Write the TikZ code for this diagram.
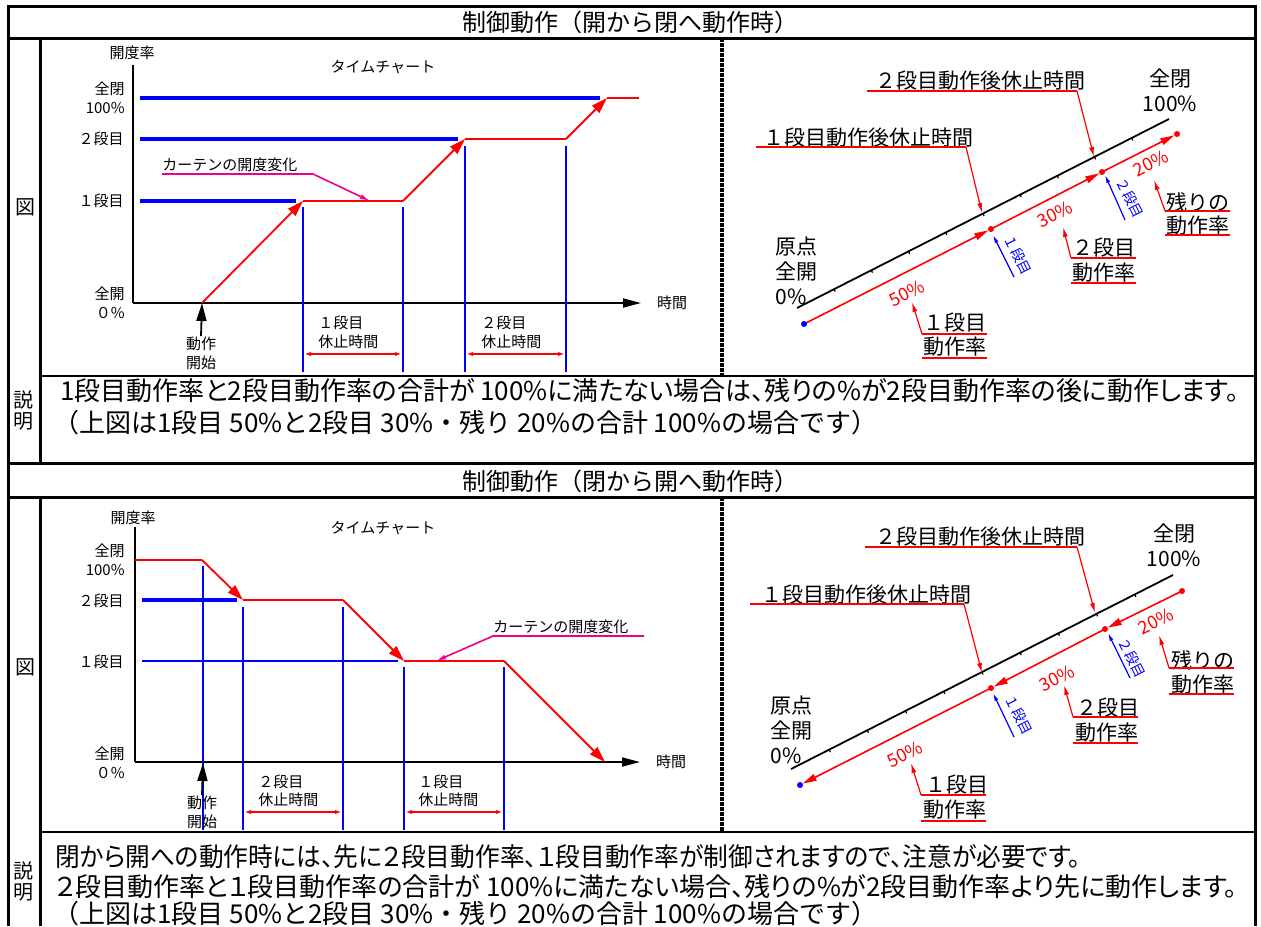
\documentclass[tikz,border=0pt]{standalone}
\usepackage{graphicx}
\usepackage{fontspec}
\setmainfont{Noto Sans CJK JP}
\newfontfamily\propfont{Noto Sans CJK JP}[RawFeature=+palt]
\usetikzlibrary{
	arrows.meta,
	calc,
	positioning
}

\begin{document}
\begin{tikzpicture}[
		x=0.5pt, y=-0.5pt,
		rule/.style={line width=1.5pt},
		thinrule/.style={line width=1pt},
		divider/.style={line width=1.6pt, dash pattern=on 2pt off 0.5pt},
		axis/.style={line width=0.9pt},
		lvl/.style={blue, line width=1.6pt},
		guide/.style={blue, line width=1pt},
		curve/.style={red, line width=0.9pt},
		curvearr/.style={curve, -{Triangle[length=8pt,width=5pt]}},
		rarr/.style={red, line width=0.8pt, shorten >=1.5pt, -{Triangle[length=7pt,width=3.5pt]}},
		span/.style={red, line width=0.8pt, {Latex[length=4pt,width=2pt]}-{Latex[length=4pt,width=2pt]}},
		note/.style={magenta, line width=0.8pt},
		small/.style={font=\fontsize{7.5}{9.5}\selectfont, inner sep=0pt},
		head/.style={font=\fontsize{12}{13}\selectfont, inner sep=0pt},
		body/.style={font=\propfont\fontsize{13}{15}\selectfont, inner sep=0pt, anchor=west},
		bodyfull/.style={body, font=\fontsize{13}{15}\selectfont},
		side/.style={font=\fontsize{10}{10.5}\selectfont, inner sep=0pt, align=center},
		tag/.style={font=\fontsize{10.5}{12.5}\selectfont, inner sep=0pt},
		pct/.style={red, font=\fontsize{9}{10}\selectfont, inner sep=0pt, rotate=27},
		stage/.style={blue, font=\fontsize{7}{8}\selectfont, inner sep=0pt, rotate=-63},
		uline/.style={red, line width=0.9pt},
		leader/.style={red, line width=0.6pt, -{Latex[length=5pt,width=2.5pt]}},
		bleader/.style={blue, line width=0.6pt, -{Latex[length=4pt,width=2pt]}}
	]
	\useasboundingbox (0,0) rectangle (1261,926);

	% table frame
	\draw[rule] (8,926) -- (8,6) -- (1255,6) -- (1255,926);
	\draw[rule] (8,38) -- (1255,38);
	\draw[thinrule] (40,376) -- (1255,376);
	\draw[rule] (8,463) -- (1255,463);
	\draw[rule] (8,497) -- (1255,497);
	\draw[thinrule] (40,832) -- (1255,832);
	\draw[rule] (40,38) -- (40,463);
	\draw[rule] (40,497) -- (40,926);
	\draw[divider] (722,38) -- (722,376);
	\draw[divider] (722,497) -- (722,832);

	\node[head] (title1) at (630,22) {制御動作（開から閉へ動作時）};
	\node[head] (title2) at (630,481) {制御動作（閉から開へ動作時）};
	\node[side] (fig1) at (25,207) {図};
	\node[side] (fig2) at (25,667) {図};
	\node[side] (expl1) at (23,410) {説\\明};
	\node[side] (expl2) at (23,881) {説\\明};

	\node[body] (text1a) at (60,391) {1段目動作率と2段目動作率の合計が 100\%に満たない場合は、残りの\%が2段目動作率の後に動作します。};
	\node[bodyfull] (text1b) at (53,423) {（上図は1段目 50\%と2段目 30\%・残り 20\%の合計 100\%の場合です）};
	\node[body] (text2a) at (55,857) {\scalebox{0.95}[1]{閉から開への動作時には、先に２段目動作率、１段目動作率が制御されますので、注意が必要です。}};
	\node[body] (text2b) at (55,887) {２段目動作率と１段目動作率の合計が 100\%に満たない場合、残りの\%が2段目動作率より先に動作します。};
	\node[bodyfull] (text2c) at (53,914) {（上図は1段目 50\%と2段目 30\%・残り 20\%の合計 100\%の場合です）};

	% time chart, open -> closed
	\coordinate (o1) at (133,303);
	\draw[axis] (133,65) -- (o1);
	\draw[axis, -{Triangle[length=9pt,width=4.5pt]}] (o1) -- (641,303);
	\node[small] (rate1) at (132,53) {開度率};
	\node[small] (chart1) at (383,67) {タイムチャート};
	\node[small] (time1) at (672,303) {時間};
	\node[small, align=right, anchor=east] (full1) at (125,98) {全閉\\100\%};
	\node[small, anchor=east] (lvltwo1) at (124,139) {２段目};
	\node[small, anchor=east] (lvlone1) at (124,201) {１段目};
	\node[small, align=right, anchor=east] (open1) at (125,303) {全開\\０\%};

	\draw[lvl] (140,98) -- (600,98);
	\draw[lvl] (140,139) -- (458,139);
	\draw[lvl] (140,201) -- (296,201);

	\coordinate (p0) at (202,303);
	\coordinate (p1) at (303,201);
	\coordinate (p2) at (403,201);
	\coordinate (p3) at (465,139);
	\coordinate (p4) at (566,139);
	\coordinate (p5) at (607,98);
	\coordinate (p6) at (639,98);
	\draw[curvearr] (p0) -- (p1);
	\draw[curve] (p1) -- (p2);
	\draw[curvearr] (p2) -- (p3);
	\draw[curve] (p3) -- (p4);
	\draw[curvearr] (p4) -- (p5);
	\draw[curve] (p5) -- (p6);

	\draw[guide] (303,207) -- (303,372);
	\draw[guide] (403,207) -- (403,372);
	\draw[guide] (465,146) -- (465,372);
	\draw[guide] (566,146) -- (566,372);
	\draw[span] (303,354) -- (403,354);
	\draw[span] (465,354) -- (566,354);
	\node[small, anchor=west] (restone1) at (318,323) {１段目};
	\node[small, anchor=west] (resttime1) at (318,342) {休止時間};
	\node[small, anchor=west] (resttwo1) at (481,323) {２段目};
	\node[small, anchor=west] (resttime1b) at (481,342) {休止時間};

	\node[small, align=center] (start1) at (201,353) {動作\\開始};
	\draw[axis, -{Triangle[length=9pt,width=5pt]}] (start1.north) -- (p0);

	\node[small, anchor=south west] (curtain1) at (162,172) {カーテンの開度変化};
	\draw[note, -{Latex[length=5pt,width=2.5pt]}] (162,174) -- (313,174) -- (370,201);

	% stroke diagram, open -> closed
	\coordinate (ax1a) at (797,308);
	\coordinate (ax1b) at (1169,119);
	\draw[axis] (ax1a) -- (ax1b);
	\foreach \t in {0.1,0.2,...,0.9}
		\draw[line width=0.6pt] ($(ax1a)!\t!(ax1b)$) -- ++(1,2.5);
	\coordinate (bd1) at (804,324);
	\coordinate (rd1a) at (991,229);
	\coordinate (rd1b) at (1102,172);
	\coordinate (rd1c) at (1177,134);
	\draw[rarr] (bd1) -- (rd1a);
	\draw[rarr] (rd1a) -- (rd1b);
	\draw[rarr] (rd1b) -- (rd1c);
	\fill[blue] (bd1) circle (3);
	\fill[red] (rd1a) circle (3);
	\fill[red] (rd1b) circle (3);
	\fill[red] (rd1c) circle (3);

	\node[tag, align=center] (closed1) at (1170,90) {全閉\\100\%};
	\node[tag, align=left, anchor=west] (origin1) at (775,271) {原点\\全開\\0\%};

	\node[tag] (pausetwo1) at (980,81) {２段目動作後休止時間};
	\draw[uline] (867,91) -- (1077,91);
	\draw[leader] (1077,91) -- (1094,157);
	\node[tag] (pauseone1) at (868,138) {１段目動作後休止時間};
	\draw[uline] (756,147) -- (966,147);
	\draw[leader] (966,147) -- (982,213);

	\node[pct] (pctone1) at (907,293) {50\%};
	\node[pct] (pcttwo1) at (1055,214) {30\%};
	\node[pct] (pctrest1) at (1151,163) {20\%};
	\node[stage] (stone1) at (1018,255) {１段目};
	\draw[bleader] (1014,277) -- (993,235);
	\node[stage] (sttwo1) at (1130,198) {２段目};
	\draw[bleader] (1125,220) -- (1105,175);

	\node[tag] (rateone1) at (955,323) {１段目};
	\node[tag] (rateone1b) at (955,347) {動作率};
	\draw[uline] (922,334) -- (987,334);
	\draw[uline] (922,358) -- (987,358);
	\draw[leader] (922,334) -- (912,302);
	\node[tag] (ratetwo1) at (1104,248) {２段目};
	\node[tag] (ratetwo1b) at (1104,273) {動作率};
	\draw[uline] (1071,258) -- (1136,258);
	\draw[uline] (1071,283) -- (1136,283);
	\draw[leader] (1071,258) -- (1063,227);
	\node[tag] (raterest1) at (1198,202) {残りの};
	\node[tag] (raterest1b) at (1198,226) {動作率};
	\draw[uline] (1165,211) -- (1230,211);
	\draw[uline] (1165,235) -- (1230,235);
	\draw[leader] (1165,211) -- (1154,180);

	% time chart, closed -> open
	\coordinate (o2) at (135,762);
	\draw[axis] (135,527) -- (o2);
	\draw[axis, -{Triangle[length=9pt,width=4.5pt]}] (o2) -- (640,762);
	\node[small] (rate2) at (133,518) {開度率};
	\node[small] (chart2) at (383,528) {タイムチャート};
	\node[small] (time2) at (671,762) {時間};
	\node[small, align=right, anchor=east] (full2) at (125,560) {全閉\\100\%};
	\node[small, anchor=east] (lvltwo2) at (124,601) {２段目};
	\node[small, anchor=east] (lvlone2) at (124,662) {１段目};
	\node[small, align=right, anchor=east] (open2) at (125,763) {全開\\０\%};

	\draw[lvl] (142,600) -- (237,600);
	\draw[guide] (142,661) -- (398,661);

	\coordinate (q0) at (135,560);
	\coordinate (q1) at (202,560);
	\coordinate (q2) at (243,600);
	\coordinate (q3) at (343,600);
	\coordinate (q4) at (404,661);
	\coordinate (q5) at (504,661);
	\coordinate (q6) at (605,762);
	\draw[curve] (q0) -- (q1);
	\draw[curvearr] (q1) -- (q2);
	\draw[curve] (q2) -- (q3);
	\draw[curvearr] (q3) -- (q4);
	\draw[curve] (q4) -- (q5);
	\draw[curvearr] (q5) -- (q6);

	\draw[guide] (203,566) -- (203,830);
	\draw[guide] (243,607) -- (243,830);
	\draw[guide] (343,607) -- (343,830);
	\draw[guide] (404,667) -- (404,830);
	\draw[guide] (504,667) -- (504,830);
	\draw[span] (243,812) -- (343,812);
	\draw[span] (404,812) -- (504,812);
	\node[small, anchor=west] (resttwo2) at (258,782) {２段目};
	\node[small, anchor=west] (resttime2) at (258,800) {休止時間};
	\node[small, anchor=west] (restone2) at (418,782) {１段目};
	\node[small, anchor=west] (resttime2b) at (418,800) {休止時間};

	\node[small, align=center] (start2) at (202,812) {動作\\開始};
	\draw[axis, -{Triangle[length=9pt,width=5pt]}] (start2.north) -- (203,763);

	\node[small, anchor=south west] (curtain2) at (493,634) {カーテンの開度変化};
	\draw[note, -{Latex[length=5pt,width=2.5pt]}] (644,636) -- (493,636) -- (436,661);

	% stroke diagram, closed -> open
	\coordinate (ax2a) at (791,769);
	\coordinate (ax2b) at (1173,575);
	\draw[axis] (ax2a) -- (ax2b);
	\foreach \t in {0.1,0.2,...,0.9}
		\draw[line width=0.6pt] ($(ax2a)!\t!(ax2b)$) -- ++(1,2.5);
	\coordinate (bd2) at (800,785);
	\coordinate (rd2a) at (991,688);
	\coordinate (rd2b) at (1105,629);
	\coordinate (rd2c) at (1182,591);
	\draw[rarr] (rd2c) -- (rd2b);
	\draw[rarr] (rd2b) -- (rd2a);
	\draw[rarr] (rd2a) -- (bd2);
	\fill[blue] (bd2) circle (3);
	\fill[red] (rd2a) circle (3);
	\fill[red] (rd2b) circle (3);
	\fill[red] (rd2c) circle (3);

	\node[tag, align=center] (closed2) at (1174,545) {全閉\\100\%};
	\node[tag, align=left, anchor=west] (origin2) at (770,730) {原点\\全開\\0\%};

	\node[tag] (pausetwo2) at (980,537) {２段目動作後休止時間};
	\draw[uline] (865,547) -- (1077,547);
	\draw[leader] (1077,547) -- (1095,613);
	\node[tag] (pauseone2) at (866,595) {１段目動作後休止時間};
	\draw[uline] (750,604) -- (964,604);
	\draw[leader] (964,604) -- (982,673);

	\node[pct] (pctone2) at (905,754) {50\%};
	\node[pct] (pcttwo2) at (1057,678) {30\%};
	\node[pct] (pctrest2) at (1156,621) {20\%};
	\node[stage] (stone2) at (1019,715) {１段目};
	\draw[bleader] (1014,737) -- (993,693);
	\node[stage] (sttwo2) at (1132,658) {２段目};
	\draw[bleader] (1130,678) -- (1108,633);

	\node[tag] (rateone2) at (957,785) {１段目};
	\node[tag] (rateone2b) at (955,810) {動作率};
	\draw[uline] (921,795) -- (986,795);
	\draw[uline] (921,821) -- (986,821);
	\draw[leader] (921,795) -- (911,763);
	\node[tag] (ratetwo2) at (1108,708) {２段目};
	\node[tag] (ratetwo2b) at (1107,733) {動作率};
	\draw[uline] (1073,717) -- (1138,717);
	\draw[uline] (1073,743) -- (1138,743);
	\draw[leader] (1073,717) -- (1064,685);
	\node[tag] (raterest2) at (1203,660) {残りの};
	\node[tag] (raterest2b) at (1203,685) {動作率};
	\draw[uline] (1169,668) -- (1234,668);
	\draw[uline] (1169,694) -- (1234,694);
	\draw[leader] (1169,668) -- (1159,635);
\end{tikzpicture}
\end{document}
